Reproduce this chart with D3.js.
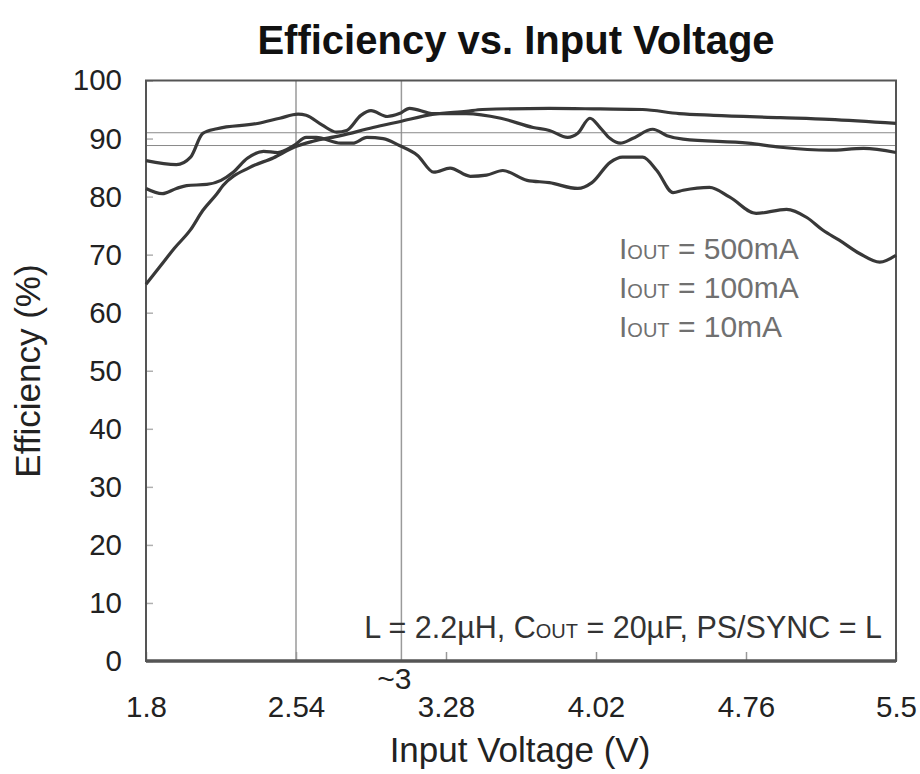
<!DOCTYPE html>
<html>
<head>
<meta charset="utf-8">
<script src="https://cdnjs.cloudflare.com/ajax/libs/d3/7.8.5/d3.min.js"></script>
<style>
  body { margin: 0; background: #fff; }
  text { font-family: "Liberation Sans", Arial, sans-serif; }
</style>
</head>
<body>
<div id="chart"></div>
<script>
// values
var vin10 = [1.8, 1.87, 1.94, 2.02, 2.08, 2.15, 2.18, 2.31, 2.43, 2.53, 2.62, 2.76, 2.92, 3.05, 3.22, 3.38, 3.46, 3.79, 4.04, 4.25, 4.43, 4.6, 4.93, 5.17, 5.5];
var eff10 = [64.9, 68.0, 71.1, 74.3, 77.6, 80.5, 81.9, 85.0, 86.7, 88.5, 89.5, 90.5, 91.9, 92.9, 94.2, 94.7, 95.0, 95.2, 95.1, 95.0, 94.3, 94.0, 93.6, 93.3, 92.6];

var vin100 = [1.8, 1.95, 2.02, 2.08, 2.15, 2.35, 2.46, 2.55, 2.59, 2.67, 2.74, 2.79, 2.86, 2.91, 2.99, 3.05, 3.1, 3.22, 3.38, 3.55, 3.71, 3.79, 3.88, 3.93, 3.99, 4.04, 4.09, 4.14, 4.2, 4.3, 4.37, 4.45, 4.77, 4.93, 5.17, 5.34, 5.5];
var eff100 = [86.2, 85.5, 86.8, 90.9, 91.7, 92.6, 93.5, 94.2, 94.0, 92.3, 91.1, 91.4, 94.0, 94.8, 93.8, 94.3, 95.2, 94.3, 94.3, 93.5, 91.9, 91.4, 90.2, 90.9, 93.5, 91.9, 90.0, 89.2, 90.0, 91.6, 90.5, 89.9, 89.2, 88.5, 88.0, 88.3, 87.6];

var vin500 = [1.8, 1.88, 1.95, 2.0, 2.1, 2.17, 2.23, 2.3, 2.38, 2.45, 2.53, 2.59, 2.64, 2.76, 2.82, 2.89, 2.97, 3.05, 3.14, 3.22, 3.3, 3.4, 3.48, 3.56, 3.68, 3.79, 3.93, 4.0, 4.09, 4.15, 4.25, 4.32, 4.4, 4.45, 4.58, 4.68, 4.81, 4.96, 5.06, 5.14, 5.22, 5.32, 5.42, 5.5];
var eff500 = [81.4, 80.5, 81.4, 81.9, 82.1, 82.8, 84.2, 86.6, 87.8, 87.6, 88.8, 90.2, 90.2, 89.2, 89.2, 90.2, 90.0, 88.8, 87.1, 84.2, 84.9, 83.5, 83.7, 84.5, 82.8, 82.4, 81.4, 82.4, 85.9, 86.8, 86.8, 84.5, 80.7, 81.1, 81.6, 79.9, 77.1, 77.8, 76.4, 74.2, 72.5, 70.2, 68.7, 69.9];

var xTicks = [1.8, 2.54, 3.28, 4.02, 4.76, 5.5];
var yTicks = [0, 10, 20, 30, 40, 50, 60, 70, 80, 90, 100];
var markerLines = [2.54, 3.06];   // vertical reference lines
var refLevels = [91, 88.8];       // thin horizontal reference lines
var legendLabels = ["500mA", "100mA", "10mA"];

var margin = {top: 80.5, right: 24, bottom: 113, left: 146},
    width = 920 - margin.left - margin.right,
    height = 774 - margin.top - margin.bottom;

var svg = d3.select("#chart")
  .append("svg")
    .attr("width", 920)
    .attr("height", 774)
  .append("g")
    .attr("transform", "translate(" + margin.left + "," + margin.top + ")");

var x = d3.scaleLinear().domain([1.8, 5.5]).range([0, width]);
var y = d3.scaleLinear().domain([0, 100]).range([height, 0]);

// title
svg.append("text")
  .attr("x", 370)
  .attr("y", -27)
  .attr("text-anchor", "middle")
  .style("font-size", "40px")
  .style("font-weight", "bold")
  .attr("fill", "#111")
  .text("Efficiency vs. Input Voltage");

// reference lines
svg.selectAll(".vline")
  .data(markerLines)
  .enter().append("line")
    .attr("x1", function(d) { return x(d); })
    .attr("x2", function(d) { return x(d); })
    .attr("y1", 0)
    .attr("y2", height)
    .attr("stroke", "#9a9a9a")
    .attr("stroke-width", 1.5);

svg.selectAll(".hline")
  .data(refLevels)
  .enter().append("line")
    .attr("x1", 0)
    .attr("x2", width)
    .attr("y1", function(d) { return y(d); })
    .attr("y2", function(d) { return y(d); })
    .attr("stroke", "#8a8a8a")
    .attr("stroke-width", 1);

// axes
var yAxis = svg.append("g")
  .call(d3.axisLeft(y).tickValues(yTicks).tickSize(-7).tickPadding(24));
yAxis.select(".domain").remove();
yAxis.selectAll(".tick line").attr("stroke", "#b0b0b0").attr("stroke-width", 1.5);
yAxis.selectAll(".tick text")
  .style("font-size", "29.5px")
  .attr("fill", "#222");

var xAxis = svg.append("g")
  .attr("transform", "translate(0," + height + ")")
  .call(d3.axisBottom(x).tickValues(xTicks).tickFormat(function(d) { return String(d); })
    .tickSize(-9).tickPadding(35));
xAxis.select(".domain").remove();
xAxis.selectAll(".tick line").attr("stroke", "#999").attr("stroke-width", 1.5);
xAxis.selectAll(".tick text")
  .style("font-size", "29.5px")
  .attr("fill", "#222");

// frame
svg.append("rect")
  .attr("width", width)
  .attr("height", height)
  .attr("fill", "none")
  .attr("stroke", "#555")
  .attr("stroke-width", 2);
svg.append("line")
  .attr("x1", 0).attr("x2", width)
  .attr("y1", height).attr("y2", height)
  .attr("stroke", "#555")
  .attr("stroke-width", 3.5);

// curves
var line = d3.line()
  .x(function(d) { return x(d[0]); })
  .y(function(d) { return y(d[1]); })
  .curve(d3.curveMonotoneX);

var series = [d3.zip(vin500, eff500), d3.zip(vin100, eff100), d3.zip(vin10, eff10)];

svg.selectAll(".curve")
  .data(series)
  .enter().append("path")
    .attr("class", "curve")
    .attr("d", line)
    .attr("fill", "none")
    .attr("stroke", "#383838")
    .attr("stroke-width", 3.2)
    .attr("stroke-linejoin", "round");

// legend
var legend = svg.selectAll(".leg")
  .data(legendLabels)
  .enter().append("text")
    .attr("x", 473)
    .attr("y", function(d, i) { return 178 + i * 39; })
    .style("font-size", "30px")
    .attr("fill", "#707070");
legend.append("tspan").text("I");
legend.append("tspan").style("font-size", "20px").text("OUT");
legend.append("tspan").text(function(d) { return " = " + d; });

// conditions note
var note = svg.append("text")
  .attr("x", width - 14)
  .attr("y", 557)
  .attr("text-anchor", "end")
  .style("font-size", "30.5px")
  .attr("fill", "#333");
note.append("tspan").text("L = 2.2\u00b5H, C");
note.append("tspan").style("font-size", "20px").text("OUT");
note.append("tspan").text(" = 20\u00b5F, PS/SYNC = L");

// "~3" marker label
svg.append("text")
  .attr("x", x(markerLines[1]) - 7)
  .attr("y", height + 28)
  .attr("text-anchor", "middle")
  .style("font-size", "30px")
  .attr("fill", "#222")
  .text("~3");

// axis titles
svg.append("text")
  .attr("x", width / 2 - 1)
  .attr("y", height + 101)
  .attr("text-anchor", "middle")
  .style("font-size", "35px")
  .attr("fill", "#222")
  .text("Input Voltage (V)");

svg.append("text")
  .attr("transform", "translate(" + (40 - margin.left) + "," + (371 - margin.top) + ") rotate(-90)")
  .attr("text-anchor", "middle")
  .style("font-size", "35px")
  .attr("fill", "#222")
  .text("Efficiency (%)");
</script>
</body>
</html>
